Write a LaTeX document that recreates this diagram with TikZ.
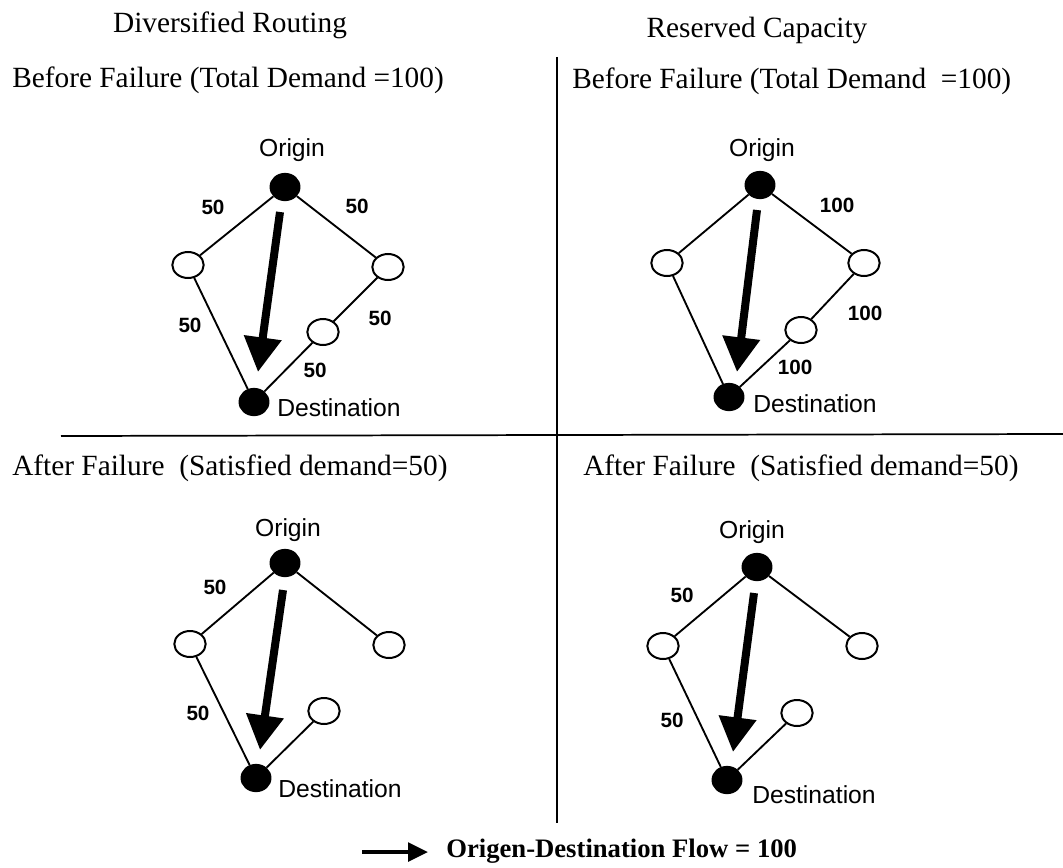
\documentclass[tikz,border=0pt]{standalone}
\usepackage{fontspec}
\setmainfont{Liberation Serif}
\newfontfamily\sansf{Liberation Sans}
\usetikzlibrary{shapes.geometric,arrows.meta}
\begin{document}
\begin{tikzpicture}[x=0.75pt,y=-0.75pt,
  heading/.style={anchor=west,inner sep=0pt,font=\fontsize{22}{26}\selectfont},
  title/.style={inner sep=0pt,font=\fontsize{22}{26}\selectfont},
  blacknode/.style={ellipse,fill=black,draw=black,line width=1.2pt,minimum width=22pt,minimum height=20pt,inner sep=0pt},
  whitenode/.style={ellipse,fill=white,draw=black,line width=1.5pt,minimum width=23.5pt,minimum height=19.5pt,inner sep=0pt},
  nlabel/.style={inner sep=0pt,font=\sansf\fontsize{18.5}{22}\selectfont},
  dlabel/.style={anchor=west,inner sep=0pt,font=\sansf\fontsize{18.5}{22}\selectfont},
  elabel/.style={inner sep=0pt,font=\sansf\bfseries\fontsize{15.5}{18}\selectfont},
  edge/.style={line width=1.4pt},
  flow/.style={line width=6pt,-{Triangle[width=27pt,length=26pt]}},
  divider/.style={line width=1.3pt}]
\useasboundingbox (0,0) rectangle (1063,867);
% headings
\node[title] (t1) at (230,25) {Diversified Routing};
\node[title] (t2) at (757,30) {Reserved Capacity};
\node[heading] (h1) at (12,80) {Before Failure (Total Demand =100)};
\node[heading] (h2) at (572,81) {Before Failure (Total Demand \ =100)};
\node[heading] (h3) at (12,468) {After Failure \ (Satisfied demand=50)};
\node[heading] (h4) at (583,468) {After Failure \ (Satisfied demand=50)};
% dividers
\coordinate (vt) at (557,57); \coordinate (vb) at (557,823);
\coordinate (hl) at (61,436); \coordinate (hr) at (1063,434);
\draw[divider] (vt) -- (vb);
\draw[divider] (hl) -- (hr);
% ---------- top left
\node[blacknode] (aO) at (285,187) {};
\node[whitenode] (aL) at (188,265) {};
\node[whitenode] (aR) at (388,267) {};
\node[whitenode] (aM) at (323,332) {};
\node[blacknode] (aD) at (254,402) {};
\node[nlabel] (aOl) at (292,150) {Origin};
\node[dlabel] (aDl) at (277,408) {Destination};
\draw[edge] (aO) -- (aL); \draw[edge] (aL) -- (aD);
\draw[edge] (aO) -- (aR); \draw[edge] (aR) -- (aM); \draw[edge] (aM) -- (aD);
\node[elabel] (a1) at (213,207) {50};
\node[elabel] (a2) at (357,206) {50};
\node[elabel] (a3) at (190,325) {50};
\node[elabel] (a4) at (380,318) {50};
\node[elabel] (a5) at (315,370) {50};
\coordinate (aS) at (280,212); \coordinate (aT) at (258,372);
\draw[flow] (aS) -- (aT);
% ---------- top right
\node[blacknode] (bO) at (760,185) {};
\node[whitenode] (bL) at (667,263) {};
\node[whitenode] (bR) at (864,263) {};
\node[whitenode] (bM) at (801,330) {};
\node[blacknode] (bD) at (729,397) {};
\node[nlabel] (bOl) at (762,150) {Origin};
\node[dlabel] (bDl) at (753,404) {Destination};
\draw[edge] (bO) -- (bL); \draw[edge] (bL) -- (bD);
\draw[edge] (bO) -- (bR); \draw[edge] (bR) -- (bM); \draw[edge] (bM) -- (bD);
\node[elabel] (b1) at (837,205) {100};
\node[elabel] (b2) at (865,313) {100};
\node[elabel] (b3) at (795,367) {100};
\coordinate (bS) at (757,210); \coordinate (bT) at (737,372);
\draw[flow] (bS) -- (bT);
% ---------- bottom left
\node[blacknode] (cO) at (285,563) {};
\node[whitenode] (cL) at (190,644) {};
\node[whitenode] (cR) at (389,645) {};
\node[whitenode] (cM) at (324,711) {};
\node[blacknode] (cD) at (256,778) {};
\node[nlabel] (cOl) at (288,530) {Origin};
\node[dlabel] (cDl) at (278,789) {Destination};
\draw[edge] (cO) -- (cL); \draw[edge] (cL) -- (cD);
\draw[edge] (cO) -- (cR); \draw[edge] (cM) -- (cD);
\node[elabel] (c1) at (215,587) {50};
\node[elabel] (c2) at (198,713) {50};
\coordinate (cS) at (283,590); \coordinate (cT) at (260,750);
\draw[flow] (cS) -- (cT);
% ---------- bottom right
\node[blacknode] (dO) at (757,567) {};
\node[whitenode] (dL) at (663,646) {};
\node[whitenode] (dR) at (862,646) {};
\node[whitenode] (dM) at (797,713) {};
\node[blacknode] (dD) at (727,780) {};
\node[nlabel] (dOl) at (752,532) {Origin};
\node[dlabel] (dDl) at (752,795) {Destination};
\draw[edge] (dO) -- (dL); \draw[edge] (dL) -- (dD);
\draw[edge] (dO) -- (dR); \draw[edge] (dM) -- (dD);
\node[elabel] (d1) at (682,595) {50};
\node[elabel] (d2) at (672,720) {50};
\coordinate (dS) at (754,593); \coordinate (dT) at (733,752);
\draw[flow] (dS) -- (dT);
% ---------- legend
\coordinate (lS) at (362,852); \coordinate (lT) at (428,852);
\draw[line width=2.8pt,-{Triangle[width=14pt,length=15pt]}] (lS) -- (lT);
\node[anchor=west,inner sep=0pt,font=\bfseries\fontsize{20}{24}\selectfont] (leg) at (446,851) {Origen-Destination Flow = 100};
\end{tikzpicture}
\end{document}
